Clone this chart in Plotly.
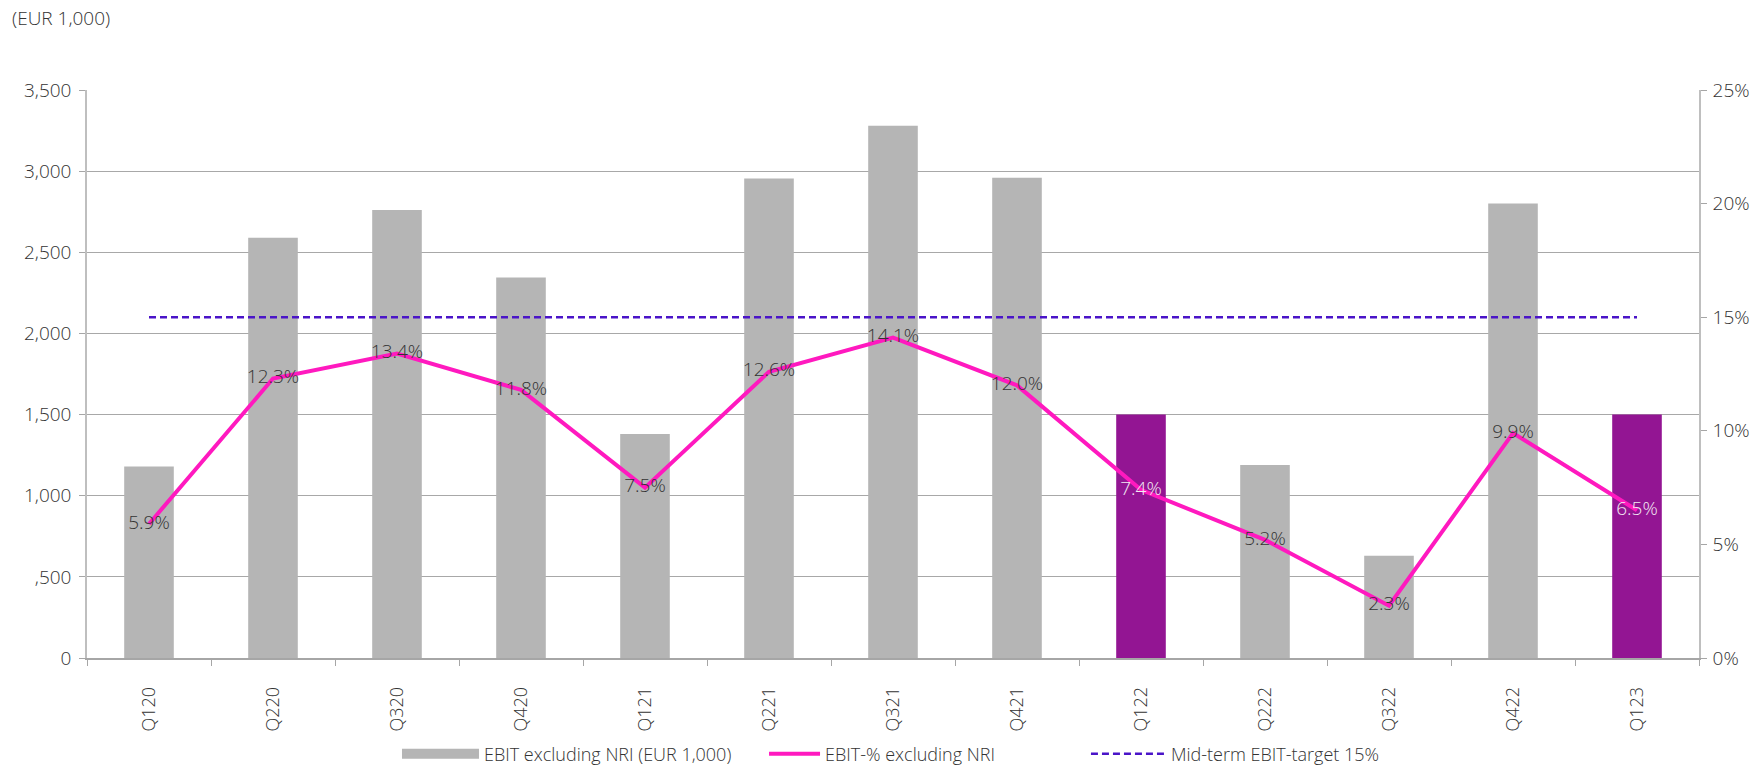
import plotly.graph_objects as go

quarters = ["Q120", "Q220", "Q320", "Q420", "Q121", "Q221", "Q321", "Q421",
            "Q122", "Q222", "Q322", "Q422", "Q123"]
ebit = [1180, 2590, 2760, 2345, 1380, 2955, 3280, 2960, 1500, 1190, 630, 2800, 1500]
ebit_pct = [5.9, 12.3, 13.4, 11.8, 7.5, 12.6, 14.1, 12.0, 7.4, 5.2, 2.3, 9.9, 6.5]
target = [15] * len(quarters)
highlight = ["Q122", "Q123"]
y_ticks = [0, 500, 1000, 1500, 2000, 2500, 3000, 3500]
y_ticktext = ["0", ",500", "1,000", "1,500", "2,000", "2,500", "3,000", "3,500"]
y2_ticks = [0, 5, 10, 15, 20, 25]

GRAY = "#b5b5b5"
PURPLE = "#931593"
PINK = "#ff19bf"
DASH = "#4a14c8"
TXT = "#333333"
FONT = "Open Sans"

bar_colors = [PURPLE if q in highlight else GRAY for q in quarters]
label_colors = ["#f4eaf4" if q in highlight else TXT for q in quarters]

fig = go.Figure()
fig.add_trace(go.Bar(
    x=quarters, y=ebit, name="EBIT excluding NRI (EUR 1,000)", showlegend=False,
    marker=dict(color=bar_colors, line=dict(width=0)), width=0.4,
))
# legend-only entry drawn as a wide gray swatch
fig.add_trace(go.Scatter(
    x=[None], y=[None], name="EBIT excluding NRI (EUR 1,000)", legend="legend",
    mode="lines", line=dict(color=GRAY, width=13),
))
fig.add_trace(go.Scatter(
    x=quarters, y=ebit_pct, yaxis="y2", name="EBIT-% excluding NRI", legend="legend2",
    mode="lines+text", line=dict(color=PINK, width=4),
    text=[f"{v:.1f}%" for v in ebit_pct], textposition="middle center",
    textfont=dict(family=FONT, size=19, color=label_colors, weight=300),
))
fig.add_trace(go.Scatter(
    x=quarters, y=target, yaxis="y2", name="Mid-term EBIT-target 15%", legend="legend3",
    mode="lines", line=dict(color=DASH, width=2.5, dash="7px,4px"),
))

legend_font = dict(family=FONT, size=18, color=TXT, weight=300)
LEG_Y = -0.169

fig.update_layout(
    width=1760, height=765,
    margin=dict(l=87, r=61, t=90, b=107, autoexpand=False),
    paper_bgcolor="white", plot_bgcolor="white",
    font=dict(family=FONT, size=17, color=TXT, weight=300),
    showlegend=True,
    legend=dict(orientation="h", x=0.1923, xanchor="left", y=LEG_Y, yanchor="middle",
                font=legend_font, itemwidth=77),
    legend2=dict(orientation="h", x=0.420, xanchor="left", y=LEG_Y, yanchor="middle",
                 font=legend_font, itemwidth=51),
    legend3=dict(orientation="h", x=0.6197, xanchor="left", y=LEG_Y, yanchor="middle",
                 font=legend_font, itemwidth=75),
    xaxis=dict(
        type="category", range=[-0.5, 12.5], tickangle=-90, showgrid=False, automargin=False,
        showline=True, linecolor="#a6a6a6", linewidth=1.5,
        ticks="outside", ticklen=6, tickcolor="#a6a6a6", tickson="boundaries",
        ticklabelstandoff=20,
        tickfont=dict(family=FONT, size=18, color=TXT, weight=300),
    ),
    yaxis=dict(
        range=[0, 3500], tickvals=y_ticks, ticktext=y_ticktext, automargin=False,
        showgrid=True, gridcolor="#a8a8a8", gridwidth=1,
        showline=True, linecolor="#bfbfbf", linewidth=1.5,
        ticks="outside", ticklen=6, tickcolor="#a6a6a6", ticklabelstandoff=4,
        tickfont=dict(family=FONT, size=19, color=TXT, weight=300), zeroline=False,
    ),
    yaxis2=dict(
        range=[0, 25], tickvals=y2_ticks, ticktext=[f"{v}%" for v in y2_ticks],
        overlaying="y", side="right", showgrid=False, automargin=False,
        showline=True, linecolor="#bfbfbf", linewidth=1.5,
        ticks="outside", ticklen=6, tickcolor="#a6a6a6", ticklabelstandoff=2,
        tickfont=dict(family=FONT, size=19, color=TXT, weight=300), zeroline=False,
    ),
    annotations=[dict(
        text="(EUR 1,000)", xref="paper", yref="paper", x=-0.048, y=1.127,
        xanchor="left", yanchor="middle", showarrow=False,
        font=dict(family=FONT, size=19, color=TXT, weight=300),
    )],
)

fig.write_html("out.html")
